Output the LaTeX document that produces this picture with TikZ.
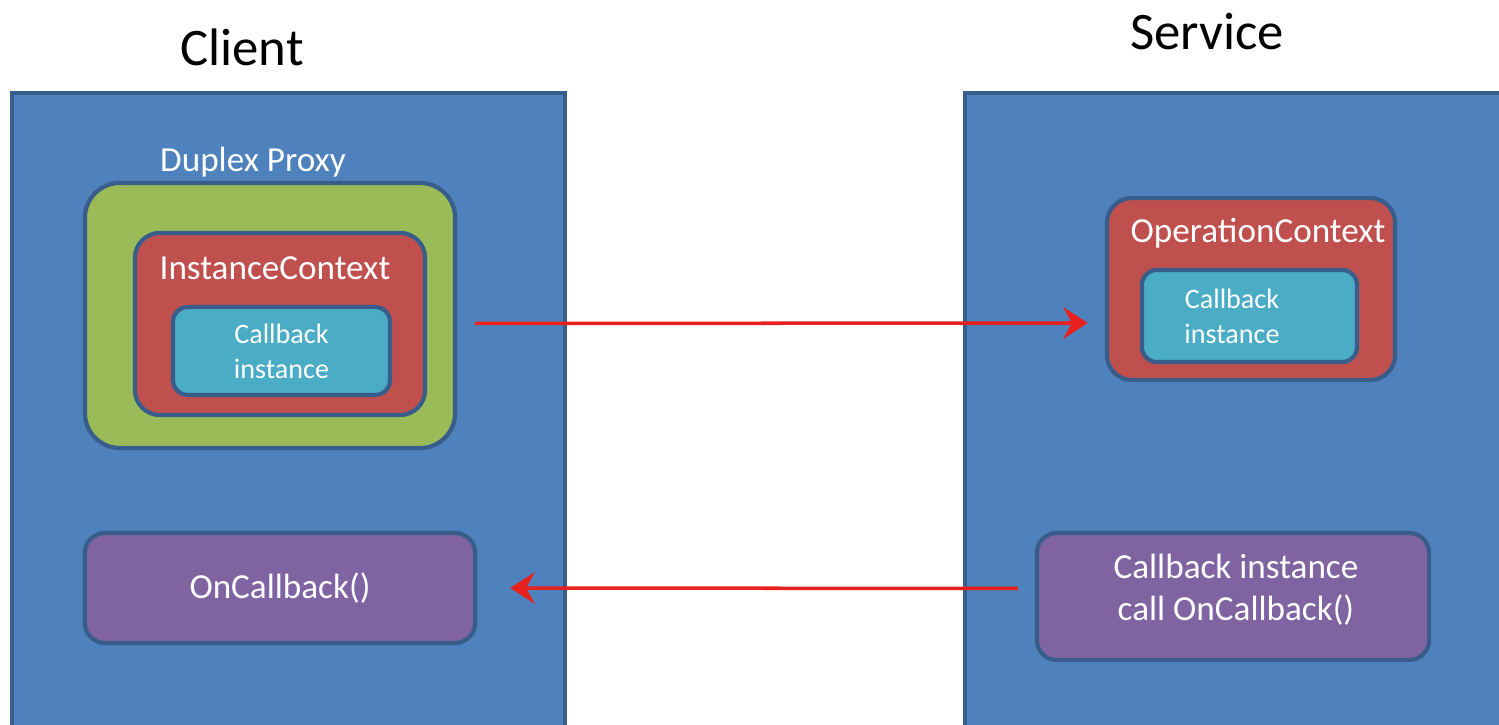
\documentclass[tikz,border=0pt]{standalone}
\usepackage{fontspec}
\setmainfont{Carlito}
\usetikzlibrary{positioning, arrows.meta}

\definecolor{panelblue}{HTML}{4F81BD}
\definecolor{edgeblue}{HTML}{385D8A}
\definecolor{proxygreen}{HTML}{9BBB59}
\definecolor{ctxred}{HTML}{C0504D}
\definecolor{cbcyan}{HTML}{4BACC6}
\definecolor{callpurple}{HTML}{8064A2}
\definecolor{arrowred}{HTML}{E8201E}

\begin{document}
\begin{tikzpicture}[x=0.01cm, y=-0.01cm,
        panel/.style={draw=edgeblue, fill=panelblue, line width=1pt, inner sep=0pt},
        box/.style={draw=edgeblue, line width=1.2pt, inner sep=0pt, text=white, align=center},
        title/.style={font=\fontsize{15}{18}\selectfont},
        lbl/.style={text=white, align=center, font=\fontsize{10}{12}\selectfont},
        smalllbl/.style={text=white, align=center, font=\fontsize{8}{10}\selectfont},
        callarrow/.style={arrowred, line width=1pt, -{Stealth[length=7pt, width=9pt, inset=2.5pt]}}]
            \useasboundingbox (0,0) rectangle (1499,725);
            \clip (0,0) rectangle (1499,725);
            % the two sides
            \node[panel, minimum width=5.53cm, minimum height=6.87cm] (client) at (288.5,436.5) {};
            \node[panel, minimum width=5.95cm, minimum height=6.87cm] (service) at (1262.5,436.5) {};
            \node[title] (clienttitle) at (242,47) {Client};
            \node[title] (servicetitle) at (1207,32) {Service};
            % client side
            \node[box, fill=proxygreen, rounded corners=0.35cm, minimum width=3.70cm, minimum height=2.65cm] (proxy) at (270,315.5) {};
            \node[lbl] (proxylbl) at (253,162) {Duplex Proxy};
            \node[box, fill=ctxred, rounded corners=0.25cm, minimum width=2.90cm, minimum height=1.82cm] (ictx) at (280,324) {};
            \node[lbl] (ictxlbl) at (275,268) {InstanceContext};
            \node[box, fill=cbcyan, rounded corners=0.15cm, minimum width=2.17cm, minimum height=0.88cm,
                  font=\fontsize{8}{10}\selectfont] (icb) at (281.5,351) {Callback\\instance};
            \node[box, fill=callpurple, rounded corners=0.2cm, minimum width=3.90cm, minimum height=1.10cm,
                  font=\fontsize{10}{12}\selectfont] (oncb) at (280,588) {OnCallback()};
            % service side
            \node[box, fill=ctxred, rounded corners=0.25cm, minimum width=2.88cm, minimum height=1.82cm] (opctx) at (1251,289) {};
            \node[lbl] (opctxlbl) at (1258,233) {OperationContext};
            \node[box, fill=cbcyan, rounded corners=0.15cm, minimum width=2.15cm, minimum height=0.92cm] (ocb) at (1249.5,316) {};
            \node[smalllbl] (ocblbl) at (1232,316) {Callback\\instance};
            \node[box, fill=callpurple, rounded corners=0.2cm, minimum width=3.92cm, minimum height=1.27cm] (cbcall) at (1233,596.5) {};
            \node[lbl] (cbcalllbl) at (1236,590) {Callback instance\\call OnCallback()};
            % calls
            \draw[callarrow] ([shift={(18,8)}]proxy.east) -- ([shift={(-17,34)}]opctx.west);
            \draw[callarrow] ([shift={(-17,-8)}]cbcall.west) -- ([shift={(33,0)}]oncb.east);
        \end{tikzpicture}
\end{document}
